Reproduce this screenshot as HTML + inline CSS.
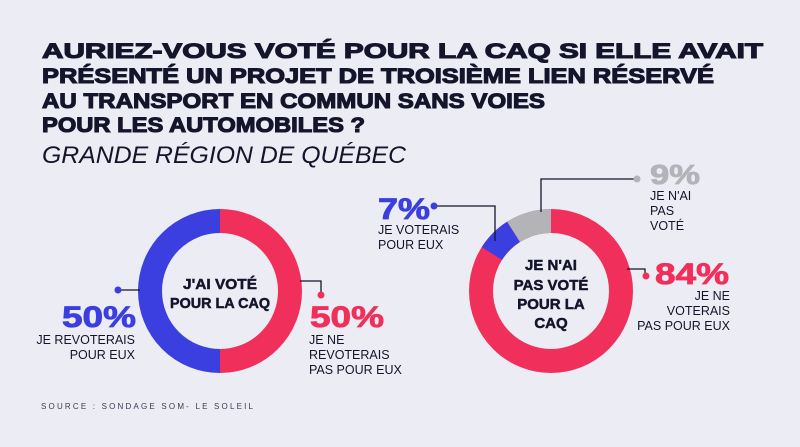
<!DOCTYPE html>
<html><head><meta charset="utf-8"><style>
html,body{margin:0;padding:0;background:#ececf5;}
svg{display:block;font-family:"Liberation Sans",sans-serif;}
</style></head><body>
<svg width="800" height="447" viewBox="0 0 800 447">
<rect width="800" height="447" fill="#ececf5"/>
<g fill="#14142b" stroke="#14142b" stroke-width="1.1" font-weight="bold" font-size="21.5">
<text x="42" y="58" textLength="721" lengthAdjust="spacingAndGlyphs">AURIEZ-VOUS VOTÉ POUR LA CAQ SI ELLE AVAIT</text>
<text x="42" y="83" textLength="672" lengthAdjust="spacingAndGlyphs">PRÉSENTÉ UN PROJET DE TROISIÈME LIEN RÉSERVÉ</text>
<text x="42" y="108" textLength="503" lengthAdjust="spacingAndGlyphs">AU TRANSPORT EN COMMUN SANS VOIES</text>
<text x="42" y="132" textLength="323" lengthAdjust="spacingAndGlyphs">POUR LES AUTOMOBILES ?</text>
</g>
<text x="42" y="163" fill="#14142b" font-style="italic" font-size="24" textLength="364" lengthAdjust="spacingAndGlyphs">GRANDE RÉGION DE QUÉBEC</text>

<!-- left donut -->
<path d="M220 221 A70 70 0 0 0 220 361" fill="none" stroke="#3b3fe0" stroke-width="24"/>
<path d="M220 221 A70 70 0 0 1 220 361" fill="none" stroke="#f0305a" stroke-width="24"/>
<g fill="#14142b" stroke="#14142b" stroke-width="0.5" font-weight="bold" font-size="15" text-anchor="middle">
<text x="220" y="289" textLength="74" lengthAdjust="spacingAndGlyphs">J'AI VOTÉ</text>
<text x="220" y="308" textLength="100" lengthAdjust="spacingAndGlyphs">POUR LA CAQ</text>
</g>
<line x1="118" y1="290" x2="140" y2="290" stroke="#14142b" stroke-width="1.3"/>
<circle cx="118" cy="290" r="3.5" fill="#3b3fe0"/>
<polyline points="300,281 321,281 321,294" fill="none" stroke="#14142b" stroke-width="1.3"/>
<circle cx="321" cy="295" r="3.5" fill="#f0305a"/>
<text x="62" y="327" fill="#3b3fe0" stroke="#3b3fe0" stroke-width="0.8" font-weight="bold" font-size="30" textLength="74" lengthAdjust="spacingAndGlyphs">50%</text>
<g fill="#14142b" font-size="12.5" text-anchor="end">
<text x="135" y="344">JE REVOTERAIS</text>
<text x="135" y="359">POUR EUX</text>
</g>
<text x="310" y="327" fill="#f0305a" stroke="#f0305a" stroke-width="0.8" font-weight="bold" font-size="30" textLength="74" lengthAdjust="spacingAndGlyphs">50%</text>
<g fill="#14142b" font-size="12.5">
<text x="309" y="344">JE NE</text>
<text x="309" y="359">REVOTERAIS</text>
<text x="309" y="374">PAS POUR EUX</text>
</g>

<!-- right donut -->
<circle cx="551" cy="291" r="70" fill="none" stroke="#f0305a" stroke-width="24"/>
<path d="M551 221 A70 70 0 0 0 513.5 231.9" fill="none" stroke="#b3b3b8" stroke-width="24"/>
<path d="M513.5 231.9 A70 70 0 0 0 491.9 253.5" fill="none" stroke="#3b3fe0" stroke-width="24"/>
<g fill="#14142b" stroke="#14142b" stroke-width="0.5" font-weight="bold" font-size="15" text-anchor="middle">
<text x="551" y="270">JE N'AI</text>
<text x="551" y="290">PAS VOTÉ</text>
<text x="551" y="309">POUR LA</text>
<text x="551" y="328">CAQ</text>
</g>
<polyline points="541,212 541,179 636,179" fill="none" stroke="#14142b" stroke-width="1.3"/>
<circle cx="637" cy="179" r="3.5" fill="#b3b3b8"/>
<polyline points="434,206 495,206 495,241" fill="none" stroke="#14142b" stroke-width="1.3"/>
<circle cx="434" cy="206" r="3.5" fill="#3b3fe0"/>
<polyline points="627,269 645,269 645,275" fill="none" stroke="#14142b" stroke-width="1.3"/>
<circle cx="646" cy="276" r="3.5" fill="#f0305a"/>
<text x="378" y="219" fill="#3b3fe0" stroke="#3b3fe0" stroke-width="0.8" font-weight="bold" font-size="30" textLength="52" lengthAdjust="spacingAndGlyphs">7%</text>
<g fill="#14142b" font-size="12.5">
<text x="378" y="234">JE VOTERAIS</text>
<text x="378" y="249">POUR EUX</text>
</g>
<text x="650" y="184" fill="#b3b3b8" stroke="#b3b3b8" stroke-width="0.8" font-weight="bold" font-size="28" textLength="50" lengthAdjust="spacingAndGlyphs">9%</text>
<g fill="#14142b" font-size="12.5">
<text x="650" y="200">JE N'AI</text>
<text x="650" y="215">PAS</text>
<text x="650" y="230">VOTÉ</text>
</g>
<text x="655" y="284" fill="#f0305a" stroke="#f0305a" stroke-width="0.8" font-weight="bold" font-size="30" textLength="74" lengthAdjust="spacingAndGlyphs">84%</text>
<g fill="#14142b" font-size="12.5" text-anchor="end">
<text x="730" y="300">JE NE</text>
<text x="730" y="315">VOTERAIS</text>
<text x="730" y="330">PAS POUR EUX</text>
</g>

<text x="41" y="409" fill="#3a3a55" font-size="8" textLength="212" lengthAdjust="spacing">SOURCE : SONDAGE SOM- LE SOLEIL</text>
</svg>
</body></html>
